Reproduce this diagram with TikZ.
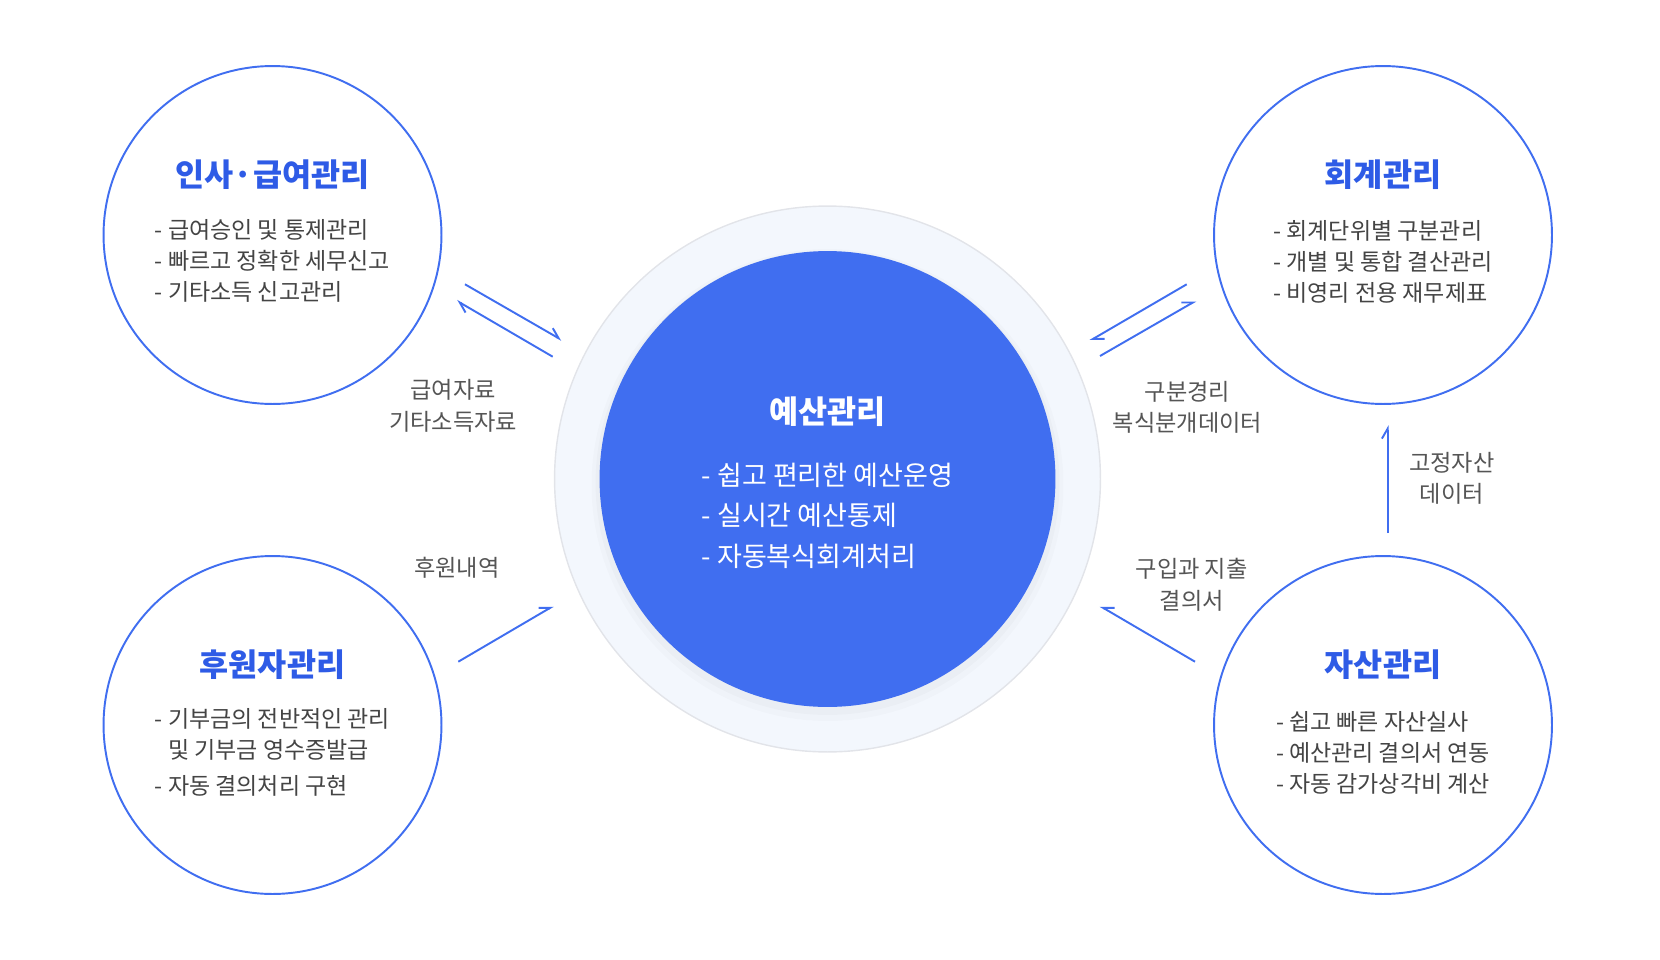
\documentclass[tikz,border=0pt]{standalone}
\usepackage{fontspec}
\setmainfont{Noto Sans CJK KR}
\usetikzlibrary{arrows.meta}
\definecolor{mainblue}{HTML}{406EF0}
\definecolor{titleblue}{HTML}{2E5BE6}
\definecolor{bodygray}{HTML}{444444}
\definecolor{labelgray}{HTML}{555555}
\definecolor{halofill}{HTML}{F3F7FD}
\definecolor{haloline}{HTML}{E2E4E9}
\tikzstyle{module} = [circle, draw=mainblue, line width=1.1pt, fill=white, minimum size=6.76cm, inner sep=0pt]
\tikzstyle{halo} = [circle, draw=haloline, line width=0.8pt, fill=halofill, minimum size=10.92cm, inner sep=0pt]
\tikzstyle{core} = [circle, fill=mainblue, minimum size=9.12cm, inner sep=0pt]
\tikzstyle{title} = [font=\fontsize{18}{21}\selectfont\bfseries, text=titleblue]
\tikzstyle{items} = [font=\fontsize{13.1}{17.6}\selectfont, text=bodygray, align=left]
\tikzstyle{flowlabel} = [font=\fontsize{13.2}{18}\selectfont, text=labelgray, align=center]
\tikzstyle{arrow} = [line width=1.1pt, draw=mainblue, -{Straight Barb[left, length=5.7pt, width=6.6pt]}]
\tikzstyle{arrowr} = [line width=1.1pt, draw=mainblue, -{Straight Barb[right, length=5.7pt, width=6.6pt]}]

\begin{document}
\begin{tikzpicture}[x=0.02cm, y=-0.02cm]
\useasboundingbox (0,0) rectangle (1660,960);

% centre
\node (budgethalo) [halo] at (827.5,479) {};
\fill [black, opacity=0.015] (827.5,485) circle (4.72cm);
\fill [black, opacity=0.02] (827.5,483) circle (4.64cm);
\node (budget) [core] at (827.5,479) {};
\node (budgettitle) [title, text=white, above of=budget, node distance=1.34cm] {예산관리};
\node (budgetlist) [items, text=white, font=\fontsize{15.4}{23}\selectfont, below of=budget, node distance=0.73cm]
  {- 쉽고 편리한 예산운영\\- 실시간 예산통제\\- 자동복식회계처리};

% modules
\node (hr) [module] at (272.5,235) {};
\node (hrtitle) [title, above of=hr, node distance=1.2cm] {인사·급여관리};
\node (hrlist) [items, below of=hr, node distance=0.52cm]
  {- 급여승인 및 통제관리\\- 빠르고 정확한 세무신고\\- 기타소득 신고관리};

\node (acc) [module] at (1383,235) {};
\node (acctitle) [title, above of=acc, node distance=1.2cm] {회계관리};
\node (acclist) [items, below of=acc, node distance=0.53cm]
  {- 회계단위별 구분관리\\- 개별 및 통합 결산관리\\- 비영리 전용 재무제표};

\node (donor) [module] at (272.5,725) {};
\node (donortitle) [title, above of=donor, node distance=1.2cm] {후원자관리};
\node (donorlist) [items, below of=donor, node distance=0.55cm]
  {- 기부금의 전반적인 관리\\\phantom{- }및 기부금 영수증발급\\[2.8pt]- 자동 결의처리 구현};

\node (asset) [module] at (1383,725) {};
\node (assettitle) [title, above of=asset, node distance=1.2cm] {자산관리};
\node (assetlist) [items, below of=asset, node distance=0.56cm]
  {- 쉽고 빠른 자산실사\\- 예산관리 결의서 연동\\- 자동 감가상각비 계산};

% flow labels
\node (payflow) [flowlabel] at (453.3,406) {급여자료\\기타소득자료};
\node (accflow) [flowlabel] at (1187.5,407.5) {구분경리\\복식분개데이터};
\node (fixflow) [flowlabel] at (1451.7,478.5) {고정자산\\데이터};
\node (donorflow) [flowlabel] at (456.7,568) {후원내역};
\node (buyflow) [flowlabel] at (1191.7,585) {구입과 지출\\결의서};

% arrow ends
\coordinate (pay1a) at (465,284.3);   \coordinate (pay1b) at (561.7,340);
\coordinate (pay2a) at (552.7,356.7); \coordinate (pay2b) at (456.7,300.7);
\coordinate (acc1a) at (1186.7,284.3); \coordinate (acc1b) at (1090,340.7);
\coordinate (acc2a) at (1100,356);    \coordinate (acc2b) at (1196,300.7);
\coordinate (dona) at (458.3,661.7);  \coordinate (donb) at (553.3,606);
\coordinate (buya) at (1195,661.7);   \coordinate (buyb) at (1100,606);
\coordinate (fixa) at (1387.7,533);   \coordinate (fixb) at (1387.7,425);

\draw [arrow] (pay1a) -- (pay1b);
\draw [arrow] (pay2a) -- (pay2b);
\draw [arrow] (acc1a) -- (acc1b);
\draw [arrow] (acc2a) -- (acc2b);
\draw [arrow] (dona) -- (donb);
\draw [arrowr] (buya) -- (buyb);
\draw [arrow] (fixa) -- (fixb);

\end{tikzpicture}
\end{document}
